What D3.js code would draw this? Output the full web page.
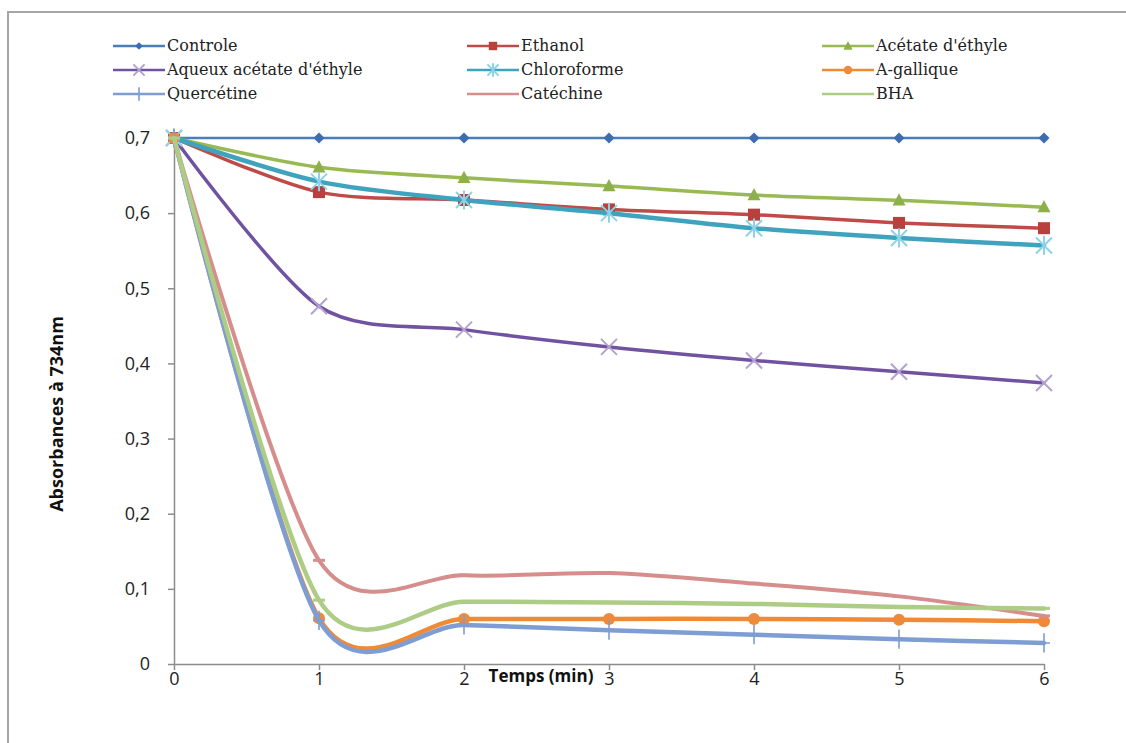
<!DOCTYPE html>
<html><head><meta charset="utf-8">
<script src="https://cdn.jsdelivr.net/npm/d3@7"></script>
<style>body{margin:0;background:#fff}</style>
</head><body>
<svg id="chart" width="1126" height="743"></svg>
<script>
const times = [0, 1, 2, 3, 4, 5, 6];
const controle    = [0.7, 0.7, 0.7, 0.7, 0.7, 0.7, 0.7];
const ethanol     = [0.7, 0.628, 0.6175, 0.605, 0.598, 0.587, 0.58];
const acetate     = [0.7, 0.661, 0.647, 0.636, 0.624, 0.617, 0.608];
const aqueux      = [0.7, 0.476, 0.445, 0.422, 0.404, 0.389, 0.374];
const chloroforme = [0.7, 0.642, 0.6175, 0.6, 0.58, 0.567, 0.557];
const gallique    = [0.7, 0.061, 0.06, 0.06, 0.06, 0.059, 0.057];
const quercetine  = [0.7, 0.058, 0.052, 0.045, 0.039, 0.033, 0.028];
const catechine   = [0.7, 0.138, 0.118, 0.121, 0.107, 0.09, 0.064];
const bha         = [0.7, 0.085, 0.083, 0.082, 0.08, 0.076, 0.074];
const seriesNames = ["Controle", "Ethanol", "Acétate d'éthyle", "Aqueux acétate d'éthyle", "Chloroforme", "A-gallique", "Quercétine", "Catéchine", "BHA"];
const yTicks = [0, 0.1, 0.2, 0.3, 0.4, 0.5, 0.6, 0.7];
const yTickLabels = ["0", "0,1", "0,2", "0,3", "0,4", "0,5", "0,6", "0,7"];
const xTickLabels = ["0", "1", "2", "3", "4", "5", "6"];
const yTitle = "Absorbances à 734nm";
const xTitle = "Temps (min)";

const values = [controle, ethanol, acetate, aqueux, chloroforme, gallique, quercetine, catechine, bha];
const styles = [
  {line:"#4A7EBB", w:2.5, marker:"diamond", mc:"#3D6CB0"},
  {line:"#BE4B48", w:3.5, marker:"square", mc:"#B8403D"},
  {line:"#98B954", w:3.5, marker:"triangle", mc:"#8DB04A"},
  {line:"#7052A0", w:3.5, marker:"x", mc:"#B3A2CF"},
  {line:"#3FA3BE", w:4.5, marker:"asterisk", mc:"#8CD3E8"},
  {line:"#F08A34", w:4.5, marker:"circle", mc:"#EE8A3A"},
  {line:"#7E9DD3", w:4.5, marker:"plus", mc:"#7E9DD3"},
  {line:"#D58E8C", w:4, marker:"dash", mc:"#D58E8C"},
  {line:"#ADCC85", w:4.5, marker:"dash", mc:"#ADCC85"}
];

const svg = d3.select("#chart");
svg.append("rect").attr("x",8).attr("y",12).attr("width",1130).attr("height",740)
  .attr("fill","none").attr("stroke","#a6a6a6").attr("stroke-width",2);

const x = d3.scaleLinear().domain([0,6]).range([174,1044]);
const y = d3.scaleLinear().domain([0,0.7]).range([664,138]);

const tickFont = "'Open Sans', sans-serif";
const yAxis = svg.append("g").attr("transform","translate(174,0)")
  .call(d3.axisLeft(y).tickValues(yTicks).tickFormat((d,i)=>yTickLabels[i]).tickSize(6).tickSizeOuter(0).tickPadding(18));
const xAxis = svg.append("g").attr("transform","translate(0,664)")
  .call(d3.axisBottom(x).tickValues(times).tickFormat((d,i)=>xTickLabels[i]).tickSize(6).tickSizeOuter(0).tickPadding(2));
[yAxis, xAxis].forEach(a=>{
  a.select(".domain").attr("stroke","#8c8c8c").attr("stroke-width",1.5);
  a.selectAll(".tick line").attr("stroke","#8c8c8c").attr("stroke-width",1.5);
  a.selectAll(".tick text").attr("font-family",tickFont).attr("font-size",18).attr("fill","#222");
});

svg.append("text").attr("transform","translate(63,414) rotate(-90)").attr("text-anchor","middle")
  .attr("font-family",tickFont).attr("font-weight","bold").attr("font-size",18).attr("fill","#111").text(yTitle);
svg.append("text").attr("x",541).attr("y",682).attr("text-anchor","middle")
  .attr("font-family",tickFont).attr("font-weight","bold").attr("font-size",17).attr("fill","#111").text(xTitle);

function drawMarker(g, type, color, s) {
  if (type==="diamond") g.append("path").attr("d",`M0,${-s}L${s},0L0,${s}L${-s},0Z`).attr("fill",color);
  else if (type==="square") g.append("rect").attr("x",-s).attr("y",-s).attr("width",2*s).attr("height",2*s).attr("fill",color);
  else if (type==="triangle") g.append("path").attr("d",`M0,${-s*1.1}L${s},${s*0.8}L${-s},${s*0.8}Z`).attr("fill",color);
  else if (type==="circle") g.append("circle").attr("r",s).attr("fill",color);
  else if (type==="x") g.append("path").attr("d",`M${-s},${-s}L${s},${s}M${-s},${s}L${s},${-s}`).attr("stroke",color).attr("stroke-width",2);
  else if (type==="asterisk") g.append("path").attr("d",`M${-s},${-s}L${s},${s}M${-s},${s}L${s},${-s}M0,${-s*1.2}L0,${s*1.2}`).attr("stroke",color).attr("stroke-width",2);
  else if (type==="plus") g.append("path").attr("d",`M${-s},0L${s},0M0,${-s*1.6}L0,${s*1.6}`).attr("stroke",color).attr("stroke-width",1.6);
  else if (type==="dash") g.append("path").attr("d",`M${-s},0L${s},0`).attr("stroke",color).attr("stroke-width",3);
}
const markerSize = {diamond:5.5, square:6, triangle:6.5, circle:6, x:8, asterisk:8, plus:6, dash:6};

const line = d3.line().x((d,i)=>x(times[i])).y(d=>y(d)).curve(d3.curveCardinal.tension(0.15));
values.forEach((vals,k)=>{
  const st = styles[k];
  const g = svg.append("g");
  g.append("path").datum(vals).attr("d",line).attr("fill","none").attr("stroke",st.line)
    .attr("stroke-width",st.w).attr("stroke-linejoin","round").attr("stroke-linecap","round");
  vals.forEach((v,i)=>{
    const mg = g.append("g").attr("transform",`translate(${x(times[i])},${y(v)})`);
    drawMarker(mg, st.marker, st.mc, markerSize[st.marker]);
  });
});

// legend
const legCols = [113, 467, 822];
const legRows = [46, 70, 94];
seriesNames.forEach((name,k)=>{
  const st = styles[k];
  const lx = legCols[k%3], ly = legRows[Math.floor(k/3)];
  const g = svg.append("g").attr("transform",`translate(${lx},${ly})`);
  g.append("line").attr("x1",0).attr("x2",52).attr("y1",0).attr("y2",0).attr("stroke",st.line).attr("stroke-width",2.5);
  if (st.marker!=="dash") {
    const mg = g.append("g").attr("transform","translate(26,0)");
    drawMarker(mg, st.marker, st.mc, markerSize[st.marker]*0.7);
  }
  g.append("text").attr("x",54).attr("y",5).attr("font-family","'DejaVu Serif', serif").attr("font-size",16)
    .attr("fill","#222").text(name);
});
</script>
</body></html>
